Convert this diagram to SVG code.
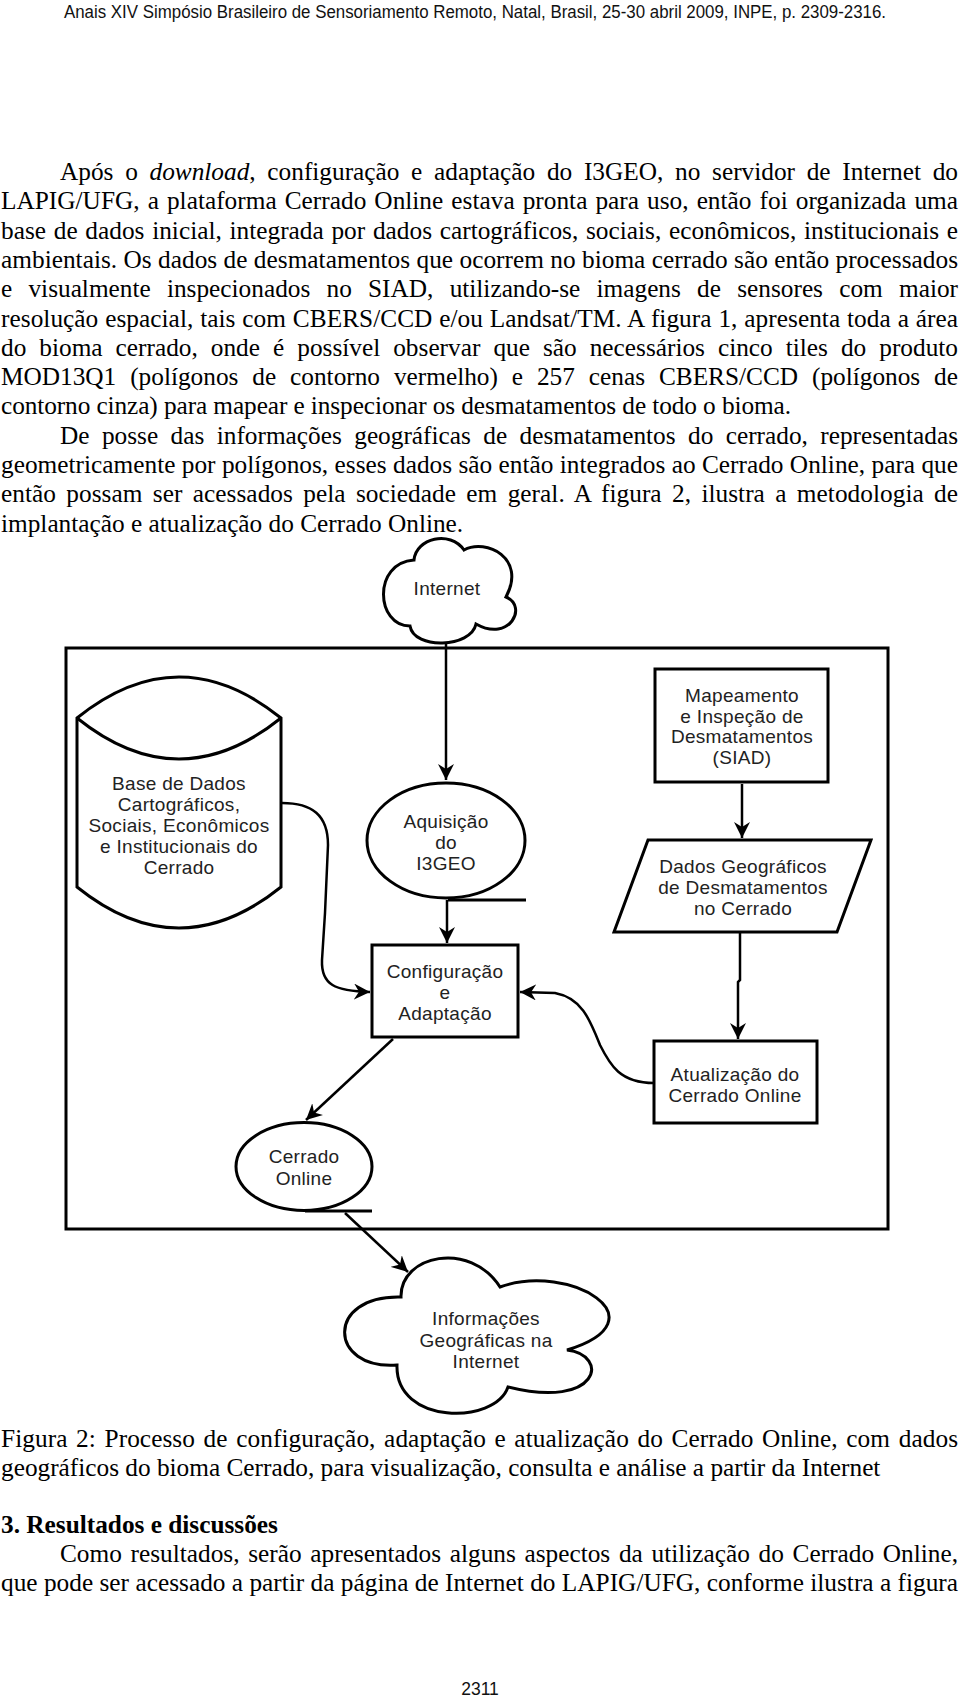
<svg xmlns="http://www.w3.org/2000/svg" width="960" height="1701" viewBox="0 0 960 1701">
<style>
.hdr{font-family:"Liberation Sans",Arial,sans-serif;font-size:17.5px;fill:#111}
.body{font-family:"Liberation Serif","Times New Roman",serif;font-size:25.3px;fill:#000}
.lbl{font-family:"Liberation Sans",Arial,sans-serif;font-size:19px;letter-spacing:0.3px;fill:#222;text-anchor:middle}
.shape{fill:#fff;stroke:#000;stroke-width:3}
.under{fill:none;stroke:#000;stroke-width:3}
.conn{fill:none;stroke:#000;stroke-width:2.5;marker-end:url(#ah)}
</style>
<defs>
<marker id="ah" viewBox="0 0 16 16" refX="16" refY="8" markerWidth="16" markerHeight="16" markerUnits="userSpaceOnUse" orient="auto">
<path d="M0,0 L16,8 L0,16 L5,8 Z" fill="#000"/>
</marker>
</defs>
<rect width="960" height="1701" fill="#fff"/>

<text class="hdr" x="64" y="17.5" textLength="822" lengthAdjust="spacingAndGlyphs">Anais XIV Simpósio Brasileiro de Sensoriamento Remoto, Natal, Brasil, 25-30 abril 2009, INPE, p. 2309-2316.</text>

<g id="body-text" class="body">
<text x="60" y="180" word-spacing="5.4" textLength="898" lengthAdjust="spacing">Após o <tspan font-style="italic">download</tspan>, configuração e adaptação do I3GEO, no servidor de Internet do</text>
<text x="1" y="209.3" word-spacing="1.7" textLength="957" lengthAdjust="spacing">LAPIG/UFG, a plataforma Cerrado Online estava pronta para uso, então foi organizada uma</text>
<text x="1" y="238.6" word-spacing="1.4" textLength="957" lengthAdjust="spacing">base de dados inicial, integrada por dados cartográficos, sociais, econômicos, institucionais e</text>
<text x="1" y="267.9" textLength="957" lengthAdjust="spacing">ambientais. Os dados de desmatamentos que ocorrem no bioma cerrado são então processados</text>
<text x="1" y="297.2" word-spacing="9.9" textLength="957" lengthAdjust="spacing">e visualmente inspecionados no SIAD, utilizando-se imagens de sensores com maior</text>
<text x="1" y="326.5" word-spacing="0.5" textLength="957" lengthAdjust="spacing">resolução espacial, tais com CBERS/CCD e/ou Landsat/TM. A figura 1, apresenta toda a área</text>
<text x="1" y="355.8" word-spacing="6.7" textLength="957" lengthAdjust="spacing">do bioma cerrado, onde é possível observar que são necessários cinco tiles do produto</text>
<text x="1" y="385.1" word-spacing="7.6" textLength="957" lengthAdjust="spacing">MOD13Q1 (polígonos de contorno vermelho) e 257 cenas CBERS/CCD (polígonos de</text>
<text x="1" y="414.4" textLength="790" lengthAdjust="spacing">contorno cinza) para mapear e inspecionar os desmatamentos de todo o bioma.</text>
<text x="60" y="443.7" word-spacing="6.1" textLength="898" lengthAdjust="spacing">De posse das informações geográficas de desmatamentos do cerrado, representadas</text>
<text x="1" y="473" textLength="957" lengthAdjust="spacing">geometricamente por polígonos, esses dados são então integrados ao Cerrado Online, para que</text>
<text x="1" y="502.3" word-spacing="4" textLength="957" lengthAdjust="spacing">então possam ser acessados pela sociedade em geral. A figura 2, ilustra a metodologia de</text>
<text x="1" y="531.6">implantação e atualização do Cerrado Online.</text>
</g>

<rect id="frame" x="66" y="648" width="822" height="581" fill="none" stroke="#000" stroke-width="3"/>

<g id="internet-cloud">
<path class="shape" d="M414,560 C416,538 450,530 464,550 C486,538 527,558 506,597 C528,606 510,643 476,624 C471,648 414,650 410,626 C376,626 372,563 414,560 Z"/>
<text class="lbl" x="447" y="595">Internet</text>
</g>

<g id="base-dados">
<path class="shape" d="M77,718 L77,887 Q179,969 281,887 L281,718 Q179,636 77,718 Z"/>
<path class="under" d="M77,718 Q179,800 281,718"/>
<text class="lbl" x="179" y="790">Base de Dados</text>
<text class="lbl" x="179" y="811">Cartográficos,</text>
<text class="lbl" x="179" y="832">Sociais, Econômicos</text>
<text class="lbl" x="179" y="853">e Institucionais do</text>
<text class="lbl" x="179" y="874">Cerrado</text>
</g>

<g id="aquisicao">
<ellipse class="shape" cx="446" cy="840.5" rx="79" ry="57.5"/>
<line class="under" x1="448" y1="900" x2="526" y2="900"/>
<text class="lbl" x="446" y="828">Aquisição</text>
<text class="lbl" x="446" y="849">do</text>
<text class="lbl" x="446" y="870">I3GEO</text>
</g>

<g id="configuracao">
<rect class="shape" x="372" y="945" width="146" height="92"/>
<text class="lbl" x="445" y="978">Configuração</text>
<text class="lbl" x="445" y="999">e</text>
<text class="lbl" x="445" y="1020">Adaptação</text>
</g>

<g id="mapeamento">
<rect class="shape" x="655" y="669" width="173" height="113"/>
<text class="lbl" x="742" y="702">Mapeamento</text>
<text class="lbl" x="742" y="723">e Inspeção de</text>
<text class="lbl" x="742" y="743">Desmatamentos</text>
<text class="lbl" x="742" y="764">(SIAD)</text>
</g>

<g id="dados-geograficos">
<path class="shape" d="M648,840 L871,840 L837,932 L614,932 Z"/>
<text class="lbl" x="743" y="873">Dados Geográficos</text>
<text class="lbl" x="743" y="894">de Desmatamentos</text>
<text class="lbl" x="743" y="915">no Cerrado</text>
</g>

<g id="atualizacao">
<rect class="shape" x="654" y="1041" width="163" height="82"/>
<text class="lbl" x="735" y="1081">Atualização do</text>
<text class="lbl" x="735" y="1102">Cerrado Online</text>
</g>

<g id="cerrado-online">
<ellipse class="shape" cx="304" cy="1166.5" rx="68" ry="44"/>
<line class="under" x1="305" y1="1211" x2="372" y2="1211"/>
<text class="lbl" x="304" y="1163">Cerrado</text>
<text class="lbl" x="304" y="1185">Online</text>
</g>

<g id="info-cloud">
<path class="shape" d="M401,1297 C400,1255 470,1240 500,1287 C570,1262 665,1320 567,1350 C610,1355 600,1410 508,1387 C495,1425 395,1425 397,1365 C328,1370 325,1295 401,1297 Z"/>
<text class="lbl" x="486" y="1325">Informações</text>
<text class="lbl" x="486" y="1347">Geográficas na</text>
<text class="lbl" x="486" y="1368">Internet</text>
</g>

<g id="connectors">
<path class="conn" d="M446,642 L446,780"/>
<path class="conn" d="M447,900 L447,943"/>
<path class="conn" d="M282,803 C312,803 328,815 328,845 L325,913 L322,960 C321,985 335,991 370,992"/>
<path class="conn" d="M742,784 L742,838"/>
<path class="conn" d="M740,933 L740,980 L738,982 L738,1039"/>
<path class="conn" d="M654,1083 C620,1083 610,1065 600,1045 C590,1020 582,998 555,993 L520,992"/>
<path class="conn" d="M393,1039 L306,1120"/>
<path class="conn" d="M345,1213 L408,1272"/>
</g>

<g id="caption" class="body">
<text x="1" y="1447" word-spacing="2.2" textLength="957" lengthAdjust="spacing">Figura 2: Processo de configuração, adaptação e atualização do Cerrado Online, com dados</text>
<text x="1" y="1476.3">geográficos do bioma Cerrado, para visualização, consulta e análise a partir da Internet</text>
<text x="1" y="1533" font-weight="bold">3. Resultados e discussões</text>
<text x="60" y="1562" word-spacing="2.4" textLength="898" lengthAdjust="spacing">Como resultados, serão apresentados alguns aspectos da utilização do Cerrado Online,</text>
<text x="1" y="1591" textLength="957" lengthAdjust="spacing">que pode ser acessado a partir da página de Internet do LAPIG/UFG, conforme ilustra a figura</text>
</g>
<text class="hdr" x="480" y="1695" text-anchor="middle">2311</text>
</svg>
